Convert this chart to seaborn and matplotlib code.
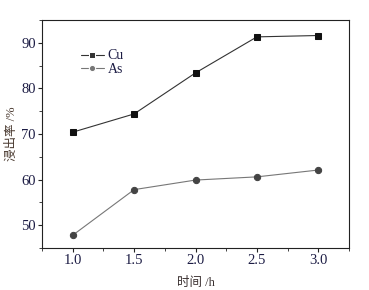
import numpy as np
import pandas as pd
import seaborn as sns
import matplotlib.pyplot as plt
from matplotlib.ticker import MultipleLocator

# data
time_h = [1.0, 1.5, 2.0, 2.5, 3.0]
cu_rate = [70.4, 74.4, 83.4, 91.3, 91.6]
as_rate = [47.8, 57.8, 59.9, 60.6, 62.1]

sns.set_style("ticks")
plt.rcParams['font.family'] = ['Liberation Serif', 'Noto Sans CJK SC']
plt.rcParams['font.size'] = 9

df = pd.DataFrame({
    'time': time_h * 2,
    'rate': cu_rate + as_rate,
    'metal': ['Cu'] * 5 + ['As'] * 5,
})

fig = plt.figure(figsize=(3.69, 2.90), dpi=100)
ax = fig.add_axes([42 / 369, 1 - 248 / 290, 307 / 369, 228 / 290])

sns.lineplot(data=df, x='time', y='rate', hue='metal', style='metal',
             palette={'Cu': '#333333', 'As': '#777777'},
             markers={'Cu': 's', 'As': 'o'}, dashes=False,
             markersize=4.5, linewidth=0.8, ax=ax)
# marker faces darker than the lines
for line, fc in zip(ax.get_lines()[:2], ['#111111', '#444444']):
    line.set_markerfacecolor(fc)
    line.set_markeredgecolor(fc)

ax.set_xlim(0.75, 3.25)
ax.set_ylim(45, 95)
ax.xaxis.set_major_locator(MultipleLocator(0.5))
ax.xaxis.set_minor_locator(MultipleLocator(0.25))
ax.yaxis.set_major_locator(MultipleLocator(10))
ax.yaxis.set_minor_locator(MultipleLocator(5))
ax.tick_params(which='both', direction='out', colors='#222222',
               labelcolor='#1c1c44', labelsize=10.5, pad=1.5)
ax.tick_params(which='major', length=3, width=0.8)
ax.tick_params(which='minor', length=2, width=0.6)
for s in ax.spines.values():
    s.set_linewidth(0.8)
    s.set_color('#222222')

ax.set_xlabel('时间 /h', color='#3a3030', fontsize=9, labelpad=7)
ax.set_ylabel('浸出率 /%', color='#4a3a30', fontsize=9, labelpad=2)

h, l = ax.get_legend_handles_labels()
order = [l.index('Cu'), l.index('As')]
ax.legend([h[i] for i in order], [l[i] for i in order], loc='upper left',
          bbox_to_anchor=(0.11, 0.895), frameon=False, fontsize=10,
          handlelength=1.6, handletextpad=0.3, labelspacing=0.05,
          labelcolor='#1c1c44', borderaxespad=0)

fig.savefig('out.png', dpi=100)
